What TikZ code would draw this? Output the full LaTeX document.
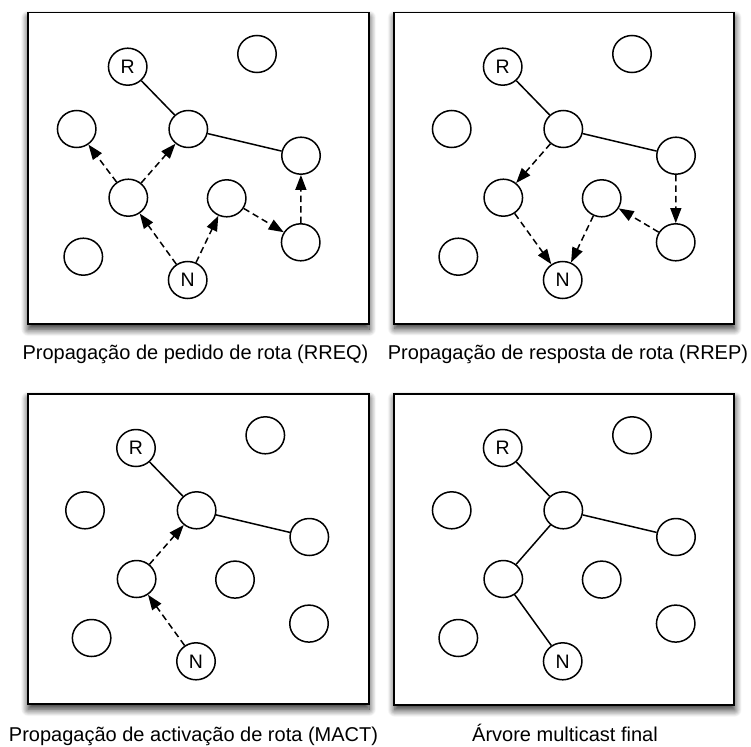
\documentclass[tikz,border=0pt]{standalone}
\usepackage{fontspec}
\setmainfont{Liberation Sans}
\usetikzlibrary{arrows.meta,shapes.geometric,shadows.blur}

\tikzset{
  host/.style={draw, line width=1.5pt, ellipse, minimum width=38.5pt,
    minimum height=37pt, inner sep=0pt, fill=white,
    font=\fontsize{19.5}{22}\selectfont},
  panel/.style={draw, line width=1.8pt, fill=white, inner sep=0pt,
    anchor=north west,
    blur shadow={shadow xshift=0.5pt, shadow yshift=-5pt,
      shadow blur radius=7pt, shadow blur steps=12, shadow opacity=85}},
  link/.style={line width=1.5pt},
  msg/.style={line width=1.5pt, dash pattern=on 6.5pt off 4pt,
    -{Triangle[length=15pt,width=11pt]}},
  caption/.style={anchor=base, inner sep=0pt,
    font=\fontsize{20}{24}\selectfont},
}

% The ten hosts of one network, named #1R, #1T, ... relative to the scope origin
\newcommand\placehosts[1]{%
  \node[host] (#1R)  at (109.4,55)    {R};
  \node[host] (#1T)  at (238.7,42.3)  {};
  \node[host] (#1L)  at (58.4,117.3)  {};
  \node[host] (#1H)  at (170,117.3)   {};
  \node[host] (#1E)  at (282.7,144)   {};
  \node[host] (#1ML) at (110,186)     {};
  \node[host] (#1MC) at (208.4,186.6) {};
  \node[host] (#1BR) at (282.4,230.6) {};
  \node[host] (#1BL) at (65,245)      {};
  \node[host] (#1N)  at (169.4,268.3) {N};
}

\begin{document}
\begin{tikzpicture}[x=1pt,y=-1pt]
\useasboundingbox (0,0) rectangle (751,746);

% panel frames
\node[panel, minimum width=341pt, minimum height=311.6pt] (box1) at (26.7,11.7) {};
\node[panel, minimum width=340pt, minimum height=311pt]   (box2) at (393.3,11.7) {};
\node[panel, minimum width=341pt, minimum height=310.6pt] (box3) at (26.7,392.7) {};
\node[panel, minimum width=340pt, minimum height=311.3pt] (box4) at (393.3,392.7) {};

% RREQ propagation
\begin{scope}[shift={(18.3,11.7)}]
  \placehosts{a}
\end{scope}
\draw[link] (aR) -- (aH);
\draw[link] (aH) -- (aE);
\draw[msg] (aML) -- (aL);
\draw[msg] (aML) -- (aH);
\draw[msg] (aN) -- (aML);
\draw[msg] (aN) -- (aMC);
\draw[msg] (aMC) -- (aBR);
\draw[msg] (aBR) -- (aE);

% RREP propagation
\begin{scope}[shift={(393.3,11.7)}]
  \placehosts{b}
\end{scope}
\draw[link] (bR) -- (bH);
\draw[link] (bH) -- (bE);
\draw[msg] (bH) -- (bML);
\draw[msg] (bML) -- (bN);
\draw[msg] (bMC) -- (bN);
\draw[msg] (bBR) -- (bMC);
\draw[msg] (bE) -- (bBR);

% MACT propagation
\begin{scope}[shift={(26.6,393)}]
  \placehosts{c}
\end{scope}
\draw[link] (cR) -- (cH);
\draw[link] (cH) -- (cE);
\draw[msg] (cML) -- (cH);
\draw[msg] (cN) -- (cML);

% final multicast tree
\begin{scope}[shift={(393.3,393)}]
  \placehosts{d}
\end{scope}
\draw[link] (dR) -- (dH);
\draw[link] (dH) -- (dE);
\draw[link] (dH) -- (dML);
\draw[link] (dML) -- (dN);

% captions
\node[caption] (cap1) at (195.5,359) {Propagação de pedido de rota (RREQ)};
\node[caption] (cap2) at (568,359)   {Propagação de resposta de rota (RREP)};
\node[caption] (cap3) at (193.5,741) {Propagação de activação de rota (MACT)};
\node[caption] (cap4) at (565,741)   {Árvore multicast final};
\end{tikzpicture}
\end{document}
